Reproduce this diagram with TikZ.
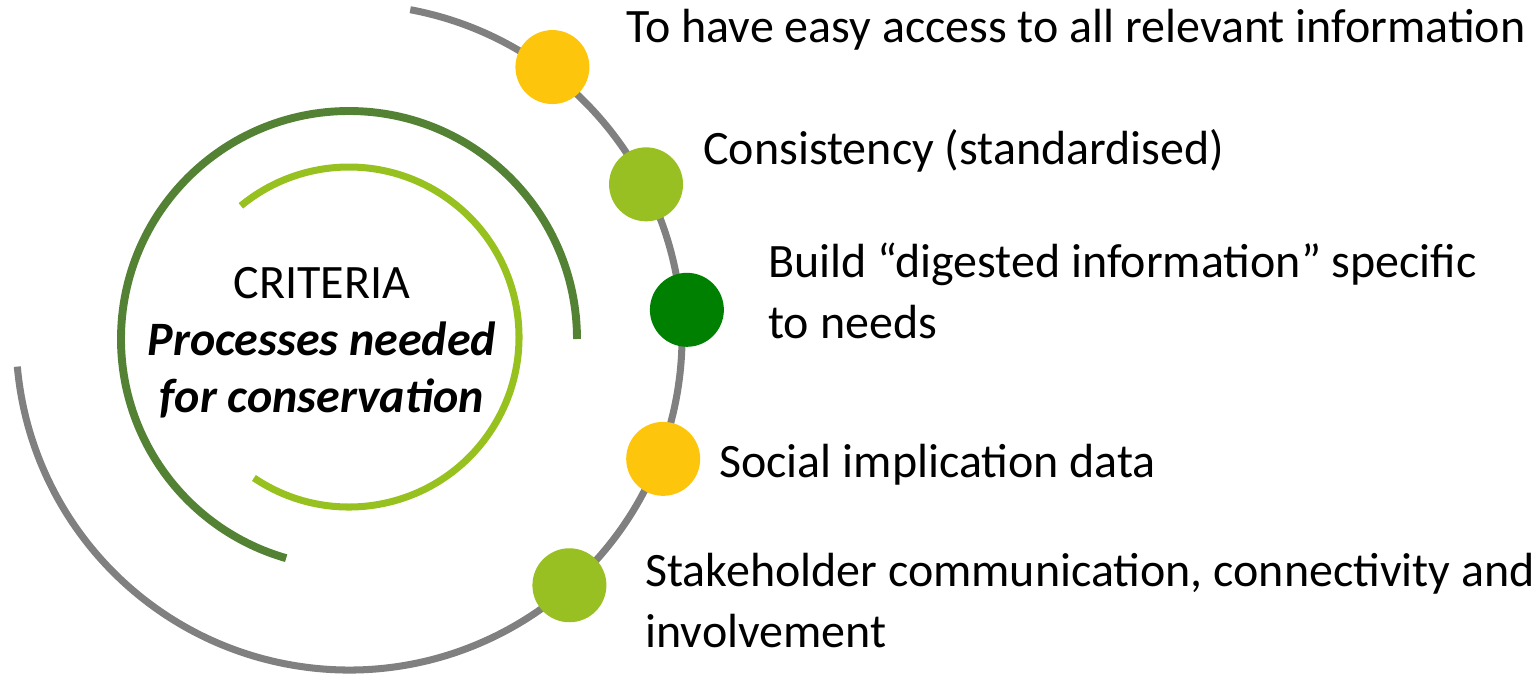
\documentclass[tikz,border=0pt]{standalone}
\usepackage{fontspec}
\setmainfont{Carlito}
\usetikzlibrary{positioning}

\definecolor{ringgray}{HTML}{808080}
\definecolor{ringdark}{HTML}{548235}
\definecolor{ringlight}{HTML}{97C11F}
\definecolor{dotyellow}{HTML}{FDC60C}
\definecolor{dotlight}{HTML}{98C022}
\definecolor{dotdark}{HTML}{008000}

\tikzset{
  bullet/.style={circle, draw=none, fill=#1, minimum size=1.48cm, inner sep=0pt},
  item/.style={anchor=base west, align=left, inner sep=0pt, font=\fontsize{27.3}{34.7}\selectfont},
}

\begin{document}
\begin{tikzpicture}[x=0.02cm, y=0.02cm]

\useasboundingbox (-349,-336) rectangle (1189,337);

\coordinate (c) at (0,0);

% rings
\draw[ringgray, line width=4pt] (79.4:333) arc[start angle=79.4, end angle=-174.9, radius=333];
\draw[ringdark, line width=4.5pt] ([yshift=-0.04cm]0:228) arc[start angle=0, end angle=254, radius=228];
\draw[ringlight, line width=4pt] (-124:170) arc[start angle=-124, end angle=129.5, radius=170];

% base sits on the last line
\node[align=center, anchor=base, font=\fontsize{27.3}{32.3}\selectfont] (crit) at (-27,-75)
  {CRITERIA\\ \textbf{\textit{Processes needed}}\\ \textbf{\textit{for conservation}}};

% points on the outer ring
\node[bullet=dotyellow] (d1) at (53.0:338) {};
\node[bullet=dotlight]  (d2) at (27.2:334) {};
\node[bullet=dotdark]   (d3) at (4.6:339) {};
\node[bullet=dotyellow] (d4) at (-21.2:337) {};
\node[bullet=dotlight]  (d5) at (-48.4:332) {};

\node[item] (t1) at (277,294) {To have easy access to all relevant information};
\node[item] (t2) at (354,173) {Consistency (standardised)};
\node[item] (t3) at (419,-1) {Build “digested information” specific\\to needs};
\node[item] (t4) at (370,-140) {Social implication data};
\node[item] (t5) at (296,-310) {Stakeholder communication, connectivity and\\involvement};

\end{tikzpicture}
\end{document}
